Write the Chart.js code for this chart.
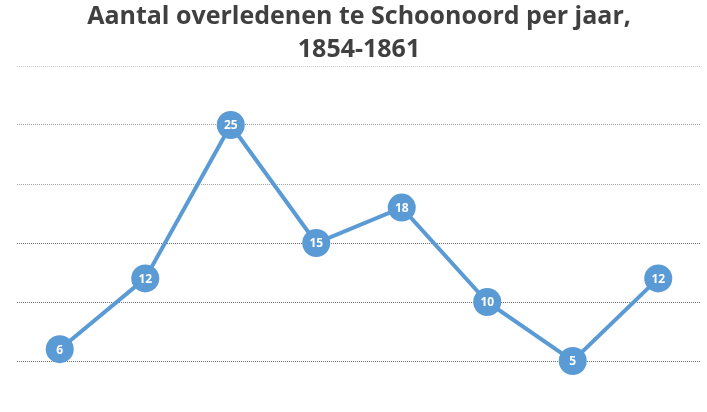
<!DOCTYPE html>
<html>
<head>
<meta charset="utf-8">
<script src="https://cdn.jsdelivr.net/npm/chart.js@4"></script>
<style>
  html, body { margin: 0; padding: 0; background: #fff; overflow: hidden; }
  #wrap { width: 707px; height: 440px; }
</style>
</head>
<body>
<div id="wrap"><canvas id="myLineChart" width="707" height="440"></canvas></div>
<script>
// ---------- data ----------
const years = ['1854', '1855', '1856', '1857', '1858', '1859', '1860', '1861'];
const deaths = [6, 12, 25, 15, 18, 10, 5, 12];
const titleLines = ['Aantal overledenen te Schoonoord per jaar,', '1854-1861'];

const blue = '#5B9BD5';

// 점 안에 값 표시하는 플러그인
const pointLabels = {
  id: 'pointLabels',
  afterDatasetsDraw(chart) {
    const ctx = chart.ctx;
    const meta = chart.getDatasetMeta(0);
    ctx.save();
    ctx.fillStyle = '#ffffff';
    ctx.font = 'bold 12px "Open Sans", sans-serif';
    ctx.textAlign = 'center';
    ctx.textBaseline = 'middle';
    meta.data.forEach((pt, i) => {
      ctx.fillText(String(chart.data.datasets[0].data[i]), pt.x, pt.y + 1);
    });
    ctx.restore();
  },
};

// 격자선 색: 아래로 갈수록 진하게
function gridColor(ctx) {
  const v = ctx.tick ? ctx.tick.value : 0;
  if (v >= 30) return '#c8c8c8';
  if (v >= 20) return '#a0a0a0';
  return '#707070';
}

const data = {
  labels: years,
  datasets: [
    {
      data: deaths,
      borderColor: blue,
      backgroundColor: blue,
      borderWidth: 4,
      pointRadius: 14,
      pointHoverRadius: 14,
      pointBorderWidth: 0,
      tension: 0,
    },
  ],
};

const config = {
  type: 'line',
  data: data,
  options: {
    responsive: false,
    animation: false,
    layout: { autoPadding: false, padding: { left: 17, right: 6, top: 0, bottom: 20 } },
    plugins: {
      legend: { display: false },
      tooltip: { enabled: false },
      title: {
        display: true,
        text: titleLines,
        color: '#404040',
        font: { family: '"Open Sans", sans-serif', size: 25, weight: 'bold', lineHeight: 1.32 },
        padding: { top: 0, bottom: 0 },
      },
    },
    scales: {
      x: {
        display: false,
        offset: true,
      },
      y: {
        min: 0,
        max: 30,
        ticks: { display: false, stepSize: 5 },
        border: { display: false, dash: [1, 1] },
        grid: {
          color: gridColor,
          lineWidth: 1,
          tickLength: 0,
          drawTicks: false,
        },
      },
    },
  },
  plugins: [pointLabels],
};

const myChart = new Chart(document.getElementById('myLineChart'), config);
</script>
</body>
</html>
